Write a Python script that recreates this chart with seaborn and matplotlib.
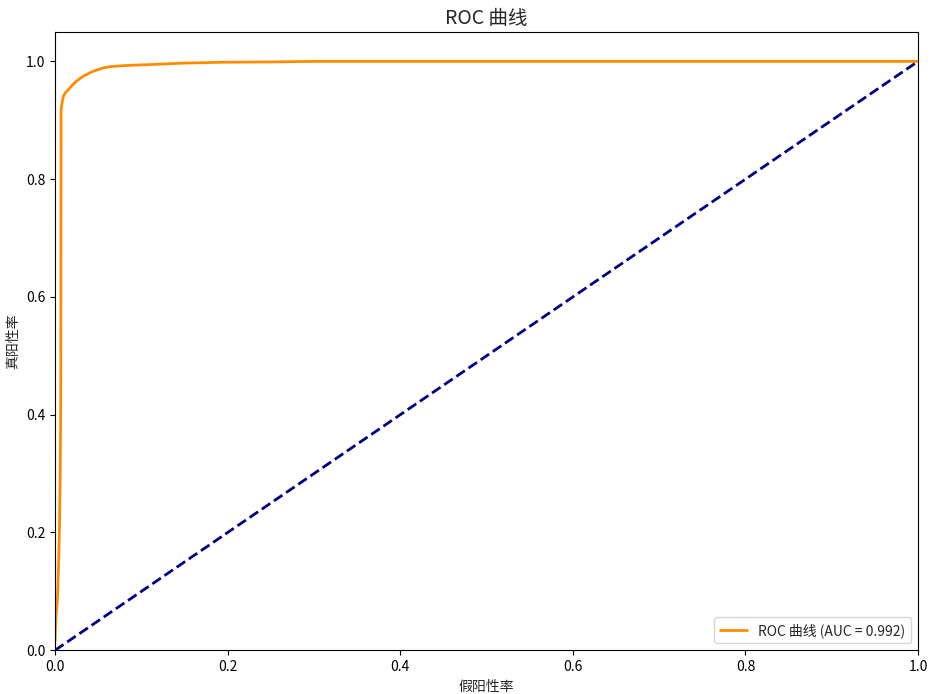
import pandas as pd
import seaborn as sns
import matplotlib.pyplot as plt

# ROC 曲线上的点
fpr = [0.0, 0.0, 0.001, 0.0027, 0.004, 0.005, 0.006, 0.0066, 0.0068, 0.007,
       0.0085, 0.0097, 0.012, 0.0155, 0.019, 0.023, 0.028, 0.033, 0.038, 0.044,
       0.05, 0.056, 0.064, 0.0715, 0.09, 0.11, 0.148, 0.195, 0.25, 0.3, 1.0]
tpr = [0.0, 0.03, 0.056, 0.085, 0.14, 0.2, 0.3, 0.425, 0.6, 0.918,
       0.932, 0.941, 0.947, 0.952, 0.958, 0.964, 0.97, 0.975, 0.979, 0.983,
       0.986, 0.989, 0.991, 0.992, 0.9935, 0.9945, 0.997, 0.9985, 0.999, 1.0, 1.0]
diag = [0.0, 1.0]
auc_value = 0.992

sns.set_style("ticks")
plt.rcParams["font.family"] = ["Noto Sans CJK SC", "DejaVu Sans"]
plt.rcParams["axes.edgecolor"] = "black"
plt.rcParams["xtick.color"] = "black"
plt.rcParams["ytick.color"] = "black"

df = pd.DataFrame({"fpr": fpr, "tpr": tpr})

fig, ax = plt.subplots(figsize=(9.33, 6.94), dpi=100)
sns.lineplot(data=df, x="fpr", y="tpr", sort=False, color="darkorange", lw=2,
             label=f"ROC 曲线 (AUC = {auc_value:.3f})", ax=ax)
sns.lineplot(x=diag, y=diag, color="navy", lw=2, linestyle="--", ax=ax)

ax.set_xlim(0.0, 1.0)
ax.set_ylim(0.0, 1.05)
ax.set_xlabel("假阳性率", fontsize=10)
ax.set_ylabel("真阳性率", fontsize=10)
ax.set_title("ROC 曲线", fontsize=14)
ax.tick_params(labelsize=10)
ax.legend(loc="lower right", fontsize=10)

plt.subplots_adjust(left=0.059, right=0.984, bottom=0.063, top=0.954)
plt.savefig("out.png", dpi=100)
